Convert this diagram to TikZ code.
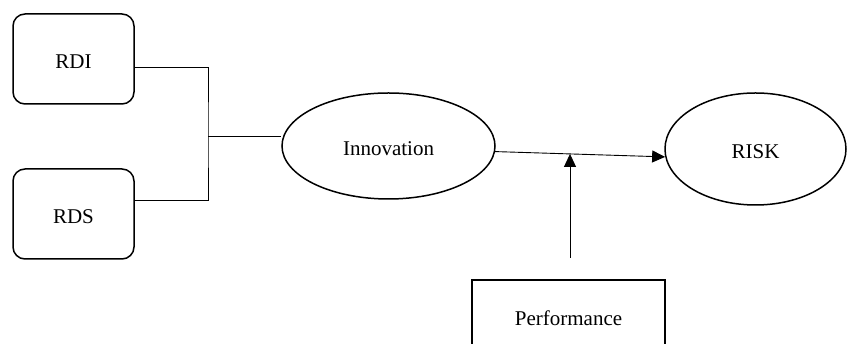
\documentclass[tikz,border=0pt]{standalone}
\usepackage{fontspec}
\setmainfont{Liberation Serif}
\usetikzlibrary{arrows.meta,shapes.geometric,calc}
\begin{document}
\begin{tikzpicture}[x=1pt, y=1pt,
	every node/.style={text height=22pt, text depth=2pt},
	varbox/.style={draw=black, line width=1.5pt, rounded corners=12pt, minimum width=121pt, minimum height=90pt, font=\fontsize{21}{25}\selectfont},
	varoval/.style={draw=black, line width=1.5pt, ellipse, inner sep=0pt, font=\fontsize{21}{25}\selectfont},
	modbox/.style={draw=black, line width=1.5pt, minimum width=193pt, minimum height=72pt, font=\fontsize{21}{25}\selectfont},
	link/.style={draw=black, line width=0.9pt},
	tip/.style={-{Triangle[length=13pt, width=12pt]}}]
	\clip (0,0) rectangle (847,344);
	\node[varbox] (rdi) at (73.5,285) {RDI};
	\node[varbox] (rds) at (73.5,130) {RDS};
	\node[varoval, minimum width=213pt, minimum height=106pt] (innov) at (388.5,198) {Innovation};
	\node[varoval, minimum width=181pt, minimum height=112pt] (risk) at (755.5,195) {RISK};
	\node[modbox] (perf) at (568.5,28) {Performance};
	\coordinate (jn) at (208,208);
	\coordinate (pf) at (570,86);
	\draw[link] ($(rdi.east)+(0,-8)$) -| (jn) |- ($(rds.east)+(0,14)$);
	\draw[link] (jn) -- (jn -| innov.west);
	\draw[link, tip] (innov.-3) -- (risk.185);
	\coordinate (mid) at ($(innov.-3)!0.44!(risk.185)$);
	\draw[link, tip] (pf) -- (pf |- mid);
\end{tikzpicture}
\end{document}
